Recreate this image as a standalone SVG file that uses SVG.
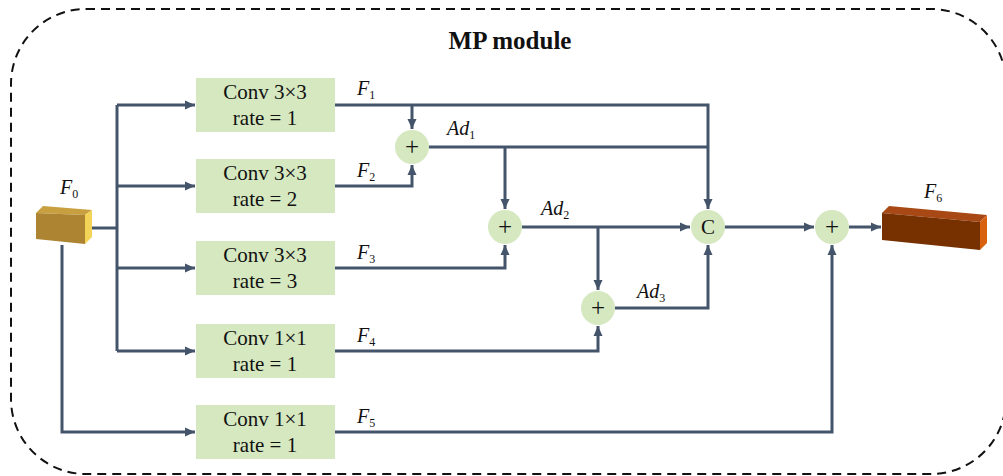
<svg xmlns="http://www.w3.org/2000/svg" width="1003" height="476" viewBox="0 0 1003 476">
<defs>
<marker id="ah" viewBox="0 0 10 10" refX="10" refY="5" markerWidth="10" markerHeight="10" markerUnits="userSpaceOnUse" orient="auto">
<path d="M0,0.5 L10,5 L0,9.5 Z" fill="#44546A"/>
</marker>
<style>
.ln{fill:none;stroke:#44546A;stroke-width:3;}
.box{fill:#D5E8C0;}
.t{font-family:"Liberation Serif","Times New Roman",serif;font-size:21px;fill:#111;text-anchor:middle;}
.lbl{font-family:"Liberation Serif","Times New Roman",serif;font-size:20px;font-style:italic;fill:#111;}
.sub{font-size:12px;font-style:normal;}
.op{fill:#D5E8C0;}
.pl{font-size:25px;}
</style>
</defs>
<rect x="11" y="9" width="995" height="465" rx="75" ry="75" fill="none" stroke="#111" stroke-width="2" stroke-dasharray="9,6"/>
<text x="510" y="49" class="t" style="font-weight:bold;font-size:25px">MP module</text>

<g id="connectors">
<path class="ln" d="M92,228 H117"/>
<path class="ln" d="M117,105 V351"/>
<path class="ln" d="M117,105 H195" marker-end="url(#ah)"/>
<path class="ln" d="M117,186 H195" marker-end="url(#ah)"/>
<path class="ln" d="M117,268 H195" marker-end="url(#ah)"/>
<path class="ln" d="M117,351 H195" marker-end="url(#ah)"/>
<path class="ln" d="M62,245 V432 H195" marker-end="url(#ah)"/>
<path class="ln" d="M335,105 H708 V209" marker-end="url(#ah)"/>
<path class="ln" d="M412,105 V129" marker-end="url(#ah)"/>
<path class="ln" d="M335,186 H412 V165" marker-end="url(#ah)"/>
<path class="ln" d="M429,147 H708"/>
<path class="ln" d="M505,147 V209" marker-end="url(#ah)"/>
<path class="ln" d="M335,268 H505 V245" marker-end="url(#ah)"/>
<path class="ln" d="M522,227 H690" marker-end="url(#ah)"/>
<path class="ln" d="M598,227 V290" marker-end="url(#ah)"/>
<path class="ln" d="M335,351 H598 V326" marker-end="url(#ah)"/>
<path class="ln" d="M615,308 H708 V245" marker-end="url(#ah)"/>
<path class="ln" d="M724,227 H814" marker-end="url(#ah)"/>
<path class="ln" d="M335,432 H832 V245" marker-end="url(#ah)"/>
<path class="ln" d="M849,227 H881" marker-end="url(#ah)"/>
</g>

<g id="F0">
<polygon points="36,213 43,206 92,210 85,215" fill="#C9A040"/>
<polygon points="36,213 85,215 85,244 36,239" fill="#AD8532"/>
<polygon points="85,215 92,210 92,237 85,244" fill="#F4D458"/>
<text x="60" y="194" class="lbl">F<tspan class="sub" dy="4">0</tspan></text>
</g>

<g id="F6">
<polygon points="882,213 889,206 987,215 980,222" fill="#A84814"/>
<polygon points="882,213 980,222 980,250 882,240" fill="#773000"/>
<polygon points="980,222 987,215 987,243 980,250" fill="#D86210"/>
<text x="924" y="198" class="lbl">F<tspan class="sub" dy="4">6</tspan></text>
</g>

<g id="conv1">
<rect class="box" x="196" y="78" width="139" height="54"/>
<text class="t" x="265" y="99">Conv 3×3</text>
<text class="t" x="265" y="125">rate = 1</text>
</g>
<g id="conv2">
<rect class="box" x="196" y="159" width="139" height="54"/>
<text class="t" x="265" y="180">Conv 3×3</text>
<text class="t" x="265" y="206">rate = 2</text>
</g>
<g id="conv3">
<rect class="box" x="196" y="241" width="139" height="54"/>
<text class="t" x="265" y="262">Conv 3×3</text>
<text class="t" x="265" y="288">rate = 3</text>
</g>
<g id="conv4">
<rect class="box" x="196" y="324" width="139" height="54"/>
<text class="t" x="265" y="345">Conv 1×1</text>
<text class="t" x="265" y="371">rate = 1</text>
</g>
<g id="conv5">
<rect class="box" x="196" y="405" width="139" height="54"/>
<text class="t" x="265" y="426">Conv 1×1</text>
<text class="t" x="265" y="452">rate = 1</text>
</g>

<g id="labels">
<text x="357" y="95" class="lbl">F<tspan class="sub" dy="4">1</tspan></text>
<text x="357" y="177" class="lbl">F<tspan class="sub" dy="4">2</tspan></text>
<text x="357" y="259" class="lbl">F<tspan class="sub" dy="4">3</tspan></text>
<text x="357" y="342" class="lbl">F<tspan class="sub" dy="4">4</tspan></text>
<text x="357" y="423" class="lbl">F<tspan class="sub" dy="4">5</tspan></text>
<text x="447" y="135" class="lbl">Ad<tspan class="sub" dy="4">1</tspan></text>
<text x="541" y="215" class="lbl">Ad<tspan class="sub" dy="4">2</tspan></text>
<text x="637" y="298" class="lbl">Ad<tspan class="sub" dy="4">3</tspan></text>
</g>

<g id="add1"><circle class="op" cx="412" cy="147" r="17"/><text class="t pl" x="412" y="155">+</text></g>
<g id="add2"><circle class="op" cx="505" cy="227" r="17"/><text class="t pl" x="505" y="235">+</text></g>
<g id="add3"><circle class="op" cx="598" cy="308" r="17"/><text class="t pl" x="598" y="316">+</text></g>
<g id="concat"><circle class="op" cx="708" cy="227" r="17"/><text class="t" x="708" y="234">C</text></g>
<g id="add4"><circle class="op" cx="832" cy="227" r="17"/><text class="t pl" x="832" y="235">+</text></g>
</svg>
